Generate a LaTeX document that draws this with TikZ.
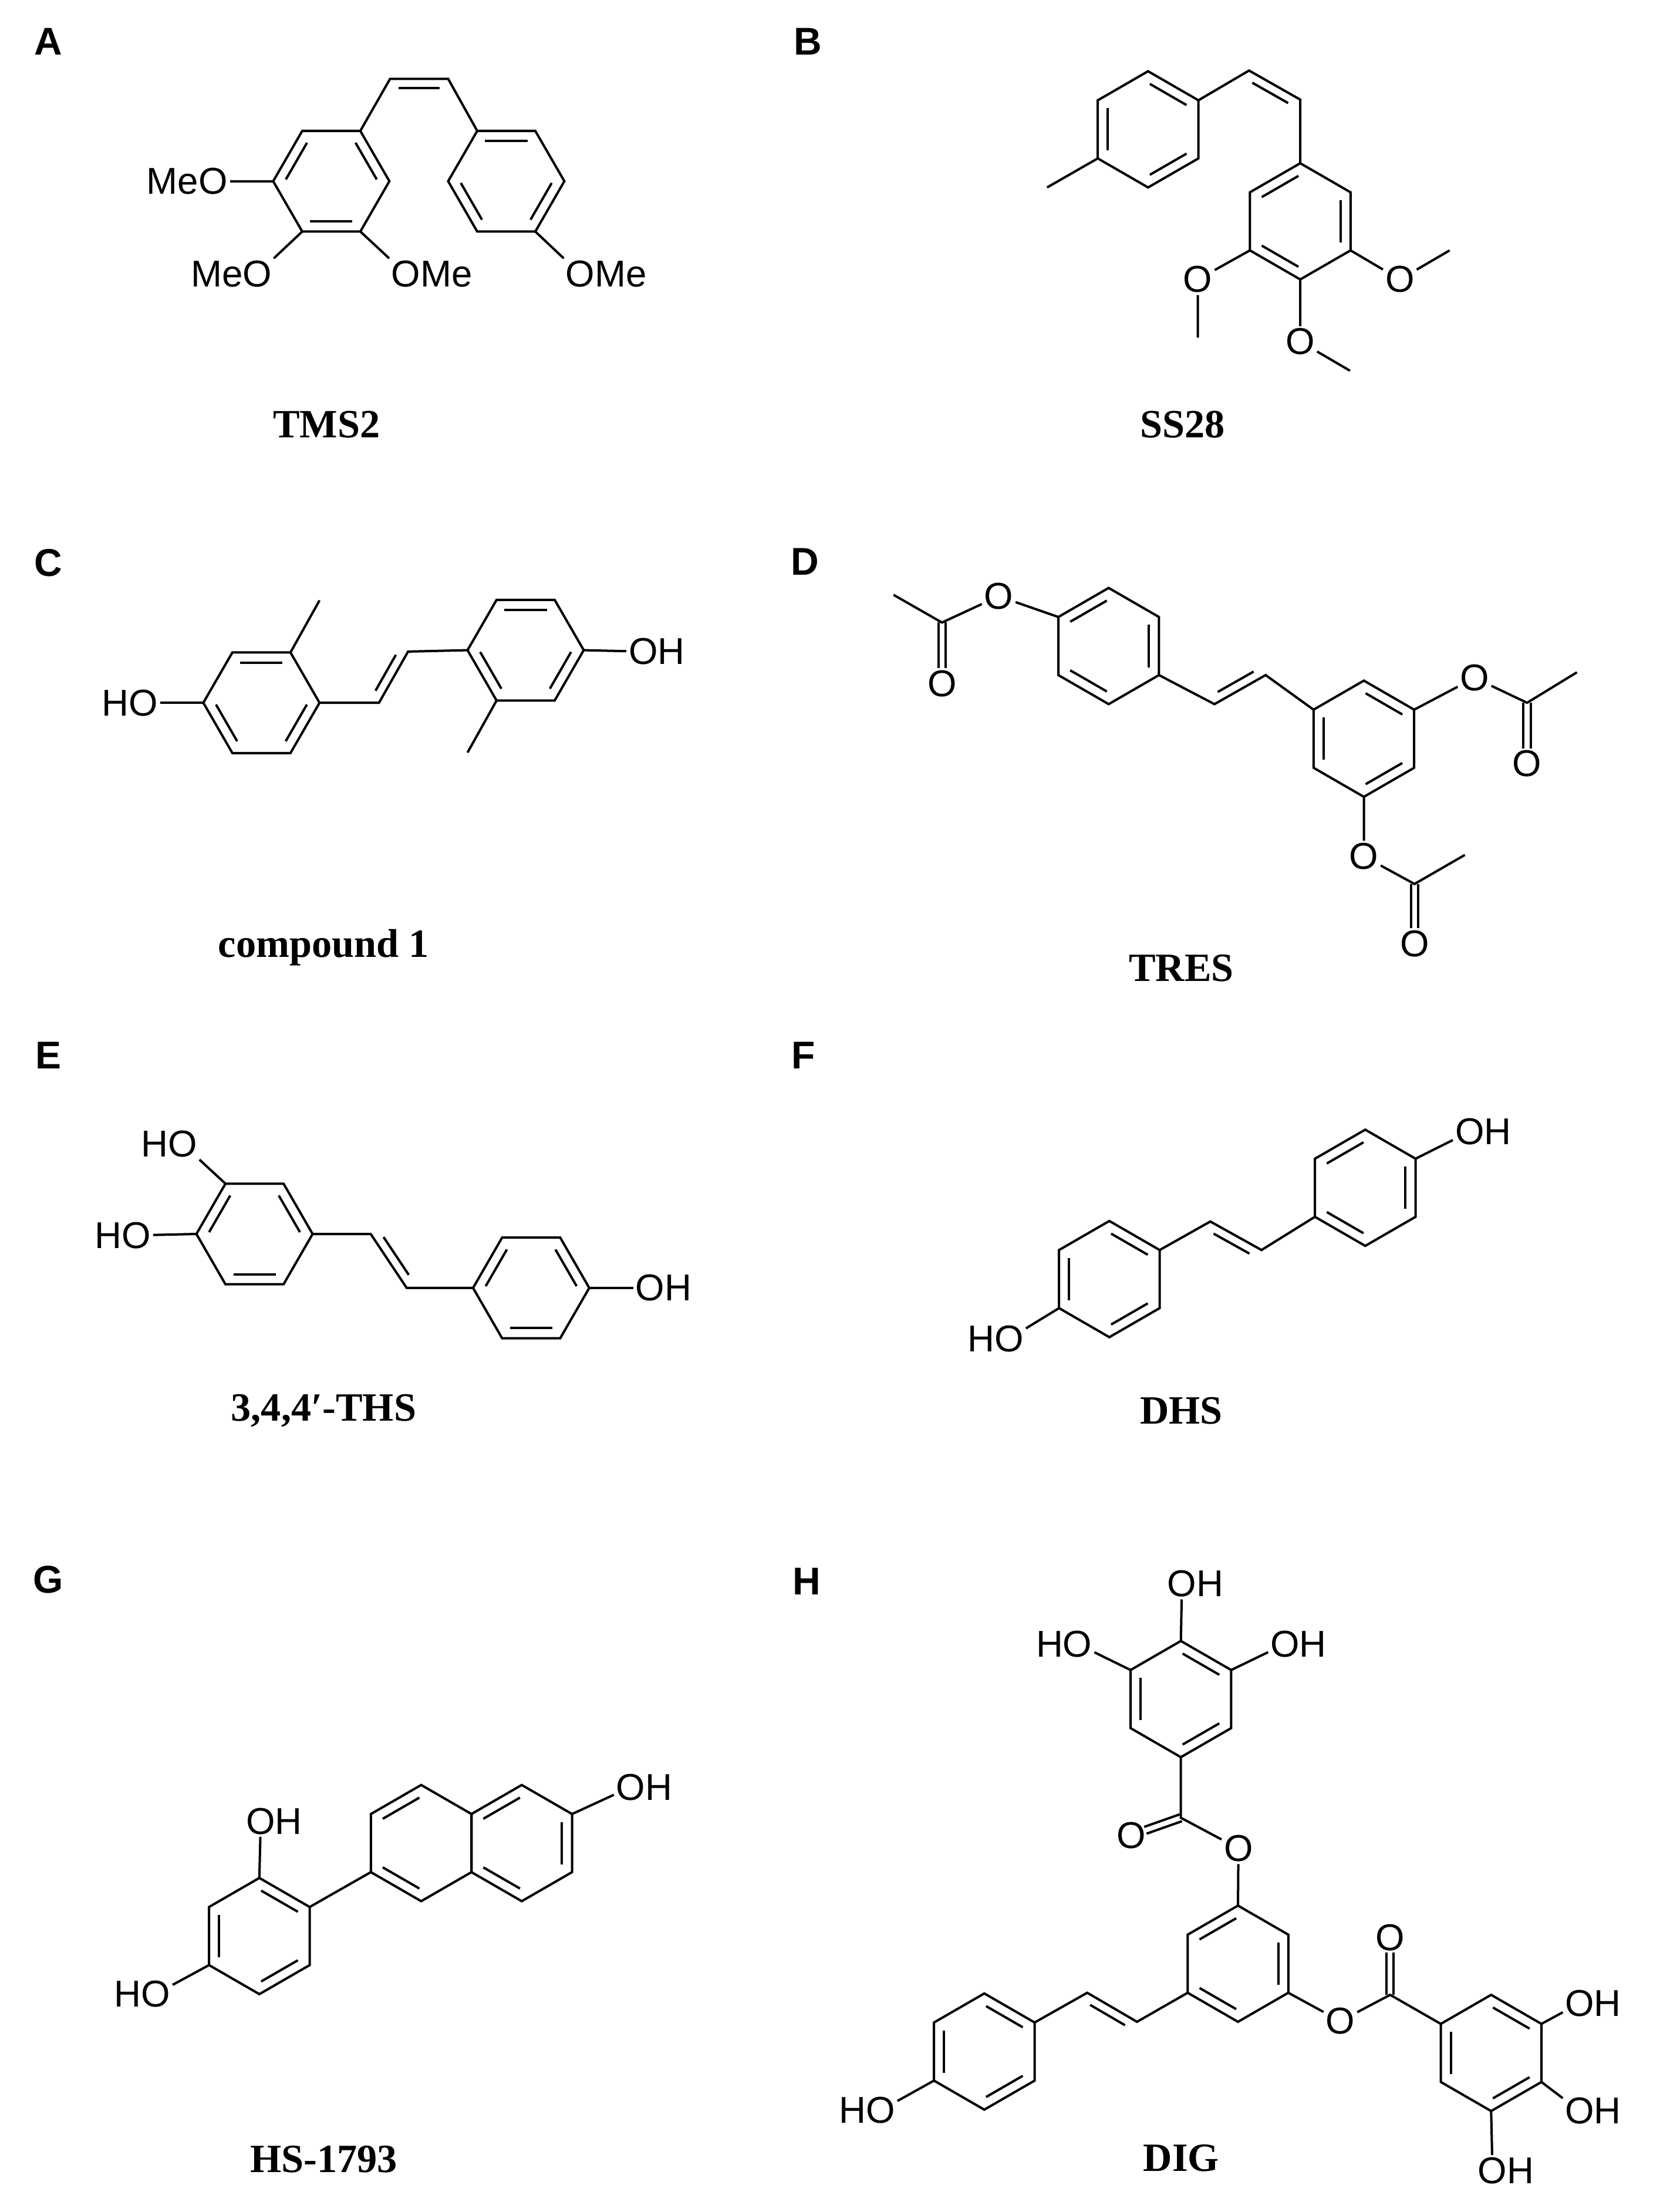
\documentclass[tikz,border=0pt]{standalone}
\usepackage{fontspec}
\setmainfont{Liberation Serif}
\newfontfamily\atomf{Liberation Sans}
\usetikzlibrary{calc}
\newcommand\hexr[4]{%
  \coordinate (#1c) at (#2,#3);
  \foreach \k in {1,...,6}{\coordinate (#1\k) at ($(#1c)+({#4+60*(\k-1)}:42)$);}
  \draw[bond] (#11)--(#12)--(#13)--(#14)--(#15)--(#16)--cycle;}
\newcommand\inr[3]{\draw[bond,shorten <=1.5pt,shorten >=1.5pt] ($(#1#2)!0.2!(#1c)$) -- ($(#1#3)!0.2!(#1c)$);}
\newcommand\vd[3]{\draw[bond] ($(#1)!0.15!(#2)!6.5pt!#3:(#2)$) -- ($(#2)!0.15!(#1)!6.5pt!-#3:(#1)$);}
\newcommand\cd[2]{%
  \draw[bond,shorten >=11pt] ($(#1)!2.6pt!90:(#2)$) -- ($(#2)!2.6pt!-90:(#1)$);
  \draw[bond,shorten >=11pt] ($(#1)!2.6pt!-90:(#2)$) -- ($(#2)!2.6pt!90:(#1)$);}
\begin{document}
\begin{tikzpicture}[x=1pt,y=-1pt,
  bond/.style={line width=1.7pt},
  atom/.style={font=\atomf\fontsize{27}{30}\selectfont, inner sep=1.5pt},
  lab/.style={font=\fontsize{29}{32}\selectfont\bfseries},
  pl/.style={font=\atomf\fontsize{28}{30}\selectfont\bfseries}]
\useasboundingbox[fill=white] (0,0) rectangle (1200,1599);
% panel letters
\node[pl] (LA) at (35,30) {A};
\node[pl] (LB) at (584,30) {B};
\node[pl] (LC) at (35,407) {C};
\node[pl] (LD) at (582,406) {D};
\node[pl] (LE) at (35,763) {E};
\node[pl] (LF) at (581,763) {F};
\node[pl] (LG) at (35,1142) {G};
\node[pl] (LH) at (583,1143) {H};
% names
\node[lab] (nA) at (236,307) {TMS2};
\node[lab] (nB) at (855,307) {SS28};
\node[lab] (nC) at (234,685) {compound 1};
\node[lab] (nD) at (854,700) {TRES};
\node[lab] (nE) at (234,1020) {3,4,4′-THS};
\node[lab] (nF) at (854,1020) {DHS};
\node[lab] (nG) at (234,1561) {HS-1793};
\node[lab] (nH) at (854,1560) {DIG};

% ===== A =====
\hexr{a1}{239.5}{131}{0}
\inr{a1}{4}{5}\inr{a1}{6}{1}\inr{a1}{2}{3}
\hexr{a2}{366}{131}{0}
\inr{a2}{5}{6}\inr{a2}{4}{3}\inr{a2}{1}{2}
\coordinate (av1) at (282,57); \coordinate (av2) at (324,57);
\draw[bond] (a16)--(av1)--(av2)--(a25);
\vd{av1}{av2}{270}
\node[atom] (aO1) at (154,131) {\llap{Me}O};
\node[atom] (aO2) at (186,198) {\llap{Me}O};
\node[atom] (aO3) at (293.5,198) {O\rlap{Me}};
\node[atom] (aO4) at (419.5,198) {O\rlap{Me}};
\draw[bond] (a14)--(aO1); \draw[bond] (a13)--(aO2);
\draw[bond] (a12)--(aO3); \draw[bond] (a22)--(aO4);

% ===== B =====
\hexr{b1}{830}{93.5}{30}
\inr{b1}{5}{6}\inr{b1}{4}{3}\inr{b1}{1}{2}
\coordinate (bm1) at (757,135.5);
\draw[bond] (b13)--(bm1);
\coordinate (bv1) at (903,51); \coordinate (bv2) at (940,72);
\hexr{b2}{940}{160}{30}
\inr{b2}{5}{4}\inr{b2}{6}{1}\inr{b2}{3}{2}
\draw[bond] (b16)--(bv1)--(bv2)--(b25);
\vd{bv1}{bv2}{270}
\node[atom] (bO1) at (1012,202) {O};
\node[atom] (bO2) at (866,202) {O};
\node[atom] (bO3) at (940,247) {O};
\coordinate (bm2) at (1048,181); \coordinate (bm3) at (866,244); \coordinate (bm4) at (976,268);
\draw[bond] (b21)--(bO1)--(bm2);
\draw[bond] (b23)--(bO2)--(bm3);
\draw[bond] (b22)--(bO3)--(bm4);

% ===== C =====
\hexr{c1}{189}{508}{0}
\inr{c1}{5}{6}\inr{c1}{4}{3}\inr{c1}{1}{2}
\hexr{c2}{380}{470}{0}
\inr{c2}{5}{6}\inr{c2}{4}{3}\inr{c2}{1}{2}
\coordinate (cm1) at (231,434); \coordinate (cm2) at (338,544);
\draw[bond] (c16)--(cm1); \draw[bond] (c23)--(cm2);
\coordinate (cv1) at (274,508); \coordinate (cv2) at (295,471);
\draw[bond] (c11)--(cv1)--(cv2)--(c24);
\vd{cv1}{cv2}{90}
\node[atom] (cO1) at (103.5,508) {\llap{H}O};
\node[atom] (cO2) at (465,471) {O\rlap{H}};
\draw[bond] (c14)--(cO1); \draw[bond] (c21)--(cO2);

% ===== D =====
\hexr{d1}{801.5}{467}{30}
\inr{d1}{5}{4}\inr{d1}{6}{1}\inr{d1}{3}{2}
\hexr{d2}{986}{534}{30}
\inr{d2}{5}{6}\inr{d2}{4}{3}\inr{d2}{1}{2}
\coordinate (dv1) at (878,509); \coordinate (dv2) at (915,488);
\draw[bond] (d11)--(dv1)--(dv2)--(d24);
\vd{dv1}{dv2}{90}
\node[atom] (dO1) at (722,431) {O};
\node[atom] (dO2) at (681,494) {O};
\coordinate (dC1) at (681,450); \coordinate (dm1) at (646,430);
\draw[bond] (d14)--(dO1)--(dC1)--(dm1);
\cd{dC1}{dO2}
\node[atom] (dO3) at (1066,490) {O};
\node[atom] (dO4) at (1104,552) {O};
\coordinate (dC2) at (1104,508); \coordinate (dm2) at (1140,486);
\draw[bond] (d26)--(dO3)--(dC2)--(dm2);
\cd{dC2}{dO4}
\node[atom] (dO5) at (986,619) {O};
\node[atom] (dO6) at (1022.6,682) {O};
\coordinate (dC3) at (1022.6,639); \coordinate (dm3) at (1059,618);
\draw[bond] (d22)--(dO5)--(dC3)--(dm3);
\cd{dC3}{dO6}

% ===== E =====
\hexr{e1}{184}{892}{0}
\inr{e1}{5}{4}\inr{e1}{6}{1}\inr{e1}{2}{3}
\hexr{e2}{384}{931}{0}
\inr{e2}{5}{4}\inr{e2}{6}{1}\inr{e2}{3}{2}
\coordinate (ev1) at (268,892); \coordinate (ev2) at (294,931);
\draw[bond] (e11)--(ev1)--(ev2)--(e24);
\vd{ev1}{ev2}{90}
\node[atom] (eO1) at (132,827) {\llap{H}O};
\node[atom] (eO2) at (98.5,893) {\llap{H}O};
\node[atom] (eO3) at (470,931) {O\rlap{H}};
\draw[bond] (e15)--(eO1); \draw[bond] (e14)--(eO2); \draw[bond] (e21)--(eO3);

% ===== F =====
\hexr{f1}{802}{924.6}{30}
\inr{f1}{5}{6}\inr{f1}{4}{3}\inr{f1}{1}{2}
\hexr{f2}{987}{858.6}{30}
\inr{f2}{5}{4}\inr{f2}{6}{1}\inr{f2}{3}{2}
\coordinate (fv1) at (875,883); \coordinate (fv2) at (912,903.6);
\draw[bond] (f16)--(fv1)--(fv2)--(f23);
\vd{fv1}{fv2}{270}
\node[atom] (fO1) at (729.5,967.7) {\llap{H}O};
\node[atom] (fO2) at (1062.5,818) {O\rlap{H}};
\draw[bond] (f13)--(fO1); \draw[bond] (f26)--(fO2);

% ===== G =====
\hexr{g1}{187.5}{1399.5}{30}
\inr{g1}{5}{6}\inr{g1}{4}{3}\inr{g1}{1}{2}
\hexr{gA}{304.5}{1332.3}{30}
\hexr{gB}{377.2}{1332.3}{30}
\inr{gA}{4}{5}\inr{gA}{3}{2}
\inr{gB}{4}{5}\inr{gB}{3}{2}\inr{gB}{6}{1}
\draw[bond] (g16)--(gA3);
\node[atom] (gO1) at (188.5,1316.5) {O\rlap{H}};
\node[atom] (gO2) at (112.6,1441.4) {\llap{H}O};
\node[atom] (gO3) at (456,1291.8) {O\rlap{H}};
\draw[bond] (g15)--(gO1); \draw[bond] (g13)--(gO2); \draw[bond] (gB6)--(gO3);

% ===== H =====
\hexr{h1}{853.7}{1228.2}{30}
\inr{h1}{5}{6}\inr{h1}{4}{3}\inr{h1}{1}{2}
\node[atom] (hO1) at (854.5,1144.9) {O\rlap{H}};
\node[atom] (hO2) at (779,1188.4) {\llap{H}O};
\node[atom] (hO3) at (929,1188.4) {O\rlap{H}};
\draw[bond] (h15)--(hO1); \draw[bond] (h14)--(hO2); \draw[bond] (h16)--(hO3);
\hexr{h2}{895}{1419.5}{30}
\inr{h2}{5}{4}\inr{h2}{6}{1}\inr{h2}{3}{2}
\coordinate (hC1) at (853.7,1314);
\node[atom] (hO4) at (817.7,1326.7) {O};
\node[atom] (hO5) at (895.3,1336.2) {O};
\draw[bond] (h12)--(hC1)--(hO5)--(h25);
\cd{hC1}{hO4}
\hexr{h3}{711.6}{1483}{30}
\inr{h3}{5}{6}\inr{h3}{4}{3}\inr{h3}{1}{2}
\coordinate (hv1) at (822,1461.5); \coordinate (hv2) at (786,1440.5);
\draw[bond] (h23)--(hv1)--(hv2)--(h36);
\vd{hv2}{hv1}{270}
\node[atom] (hO6) at (636.6,1525.5) {\llap{H}O};
\draw[bond] (h33)--(hO6);
\hexr{h4}{1078}{1484}{30}
\inr{h4}{5}{6}\inr{h4}{4}{3}\inr{h4}{1}{2}
\node[atom] (hO7) at (969,1461) {O};
\node[atom] (hO8) at (1005,1400.5) {O};
\coordinate (hC2) at (1005,1442);
\draw[bond] (h21)--(hO7)--(hC2)--(h44);
\cd{hC2}{hO8}
\node[atom] (hO9) at (1142,1448) {O\rlap{H}};
\node[atom] (hO10) at (1142,1526) {O\rlap{H}};
\node[atom] (hO11) at (1079,1569) {O\rlap{H}};
\draw[bond] (h46)--(hO9); \draw[bond] (h41)--(hO10); \draw[bond] (h42)--(hO11);
\end{tikzpicture}
\end{document}
